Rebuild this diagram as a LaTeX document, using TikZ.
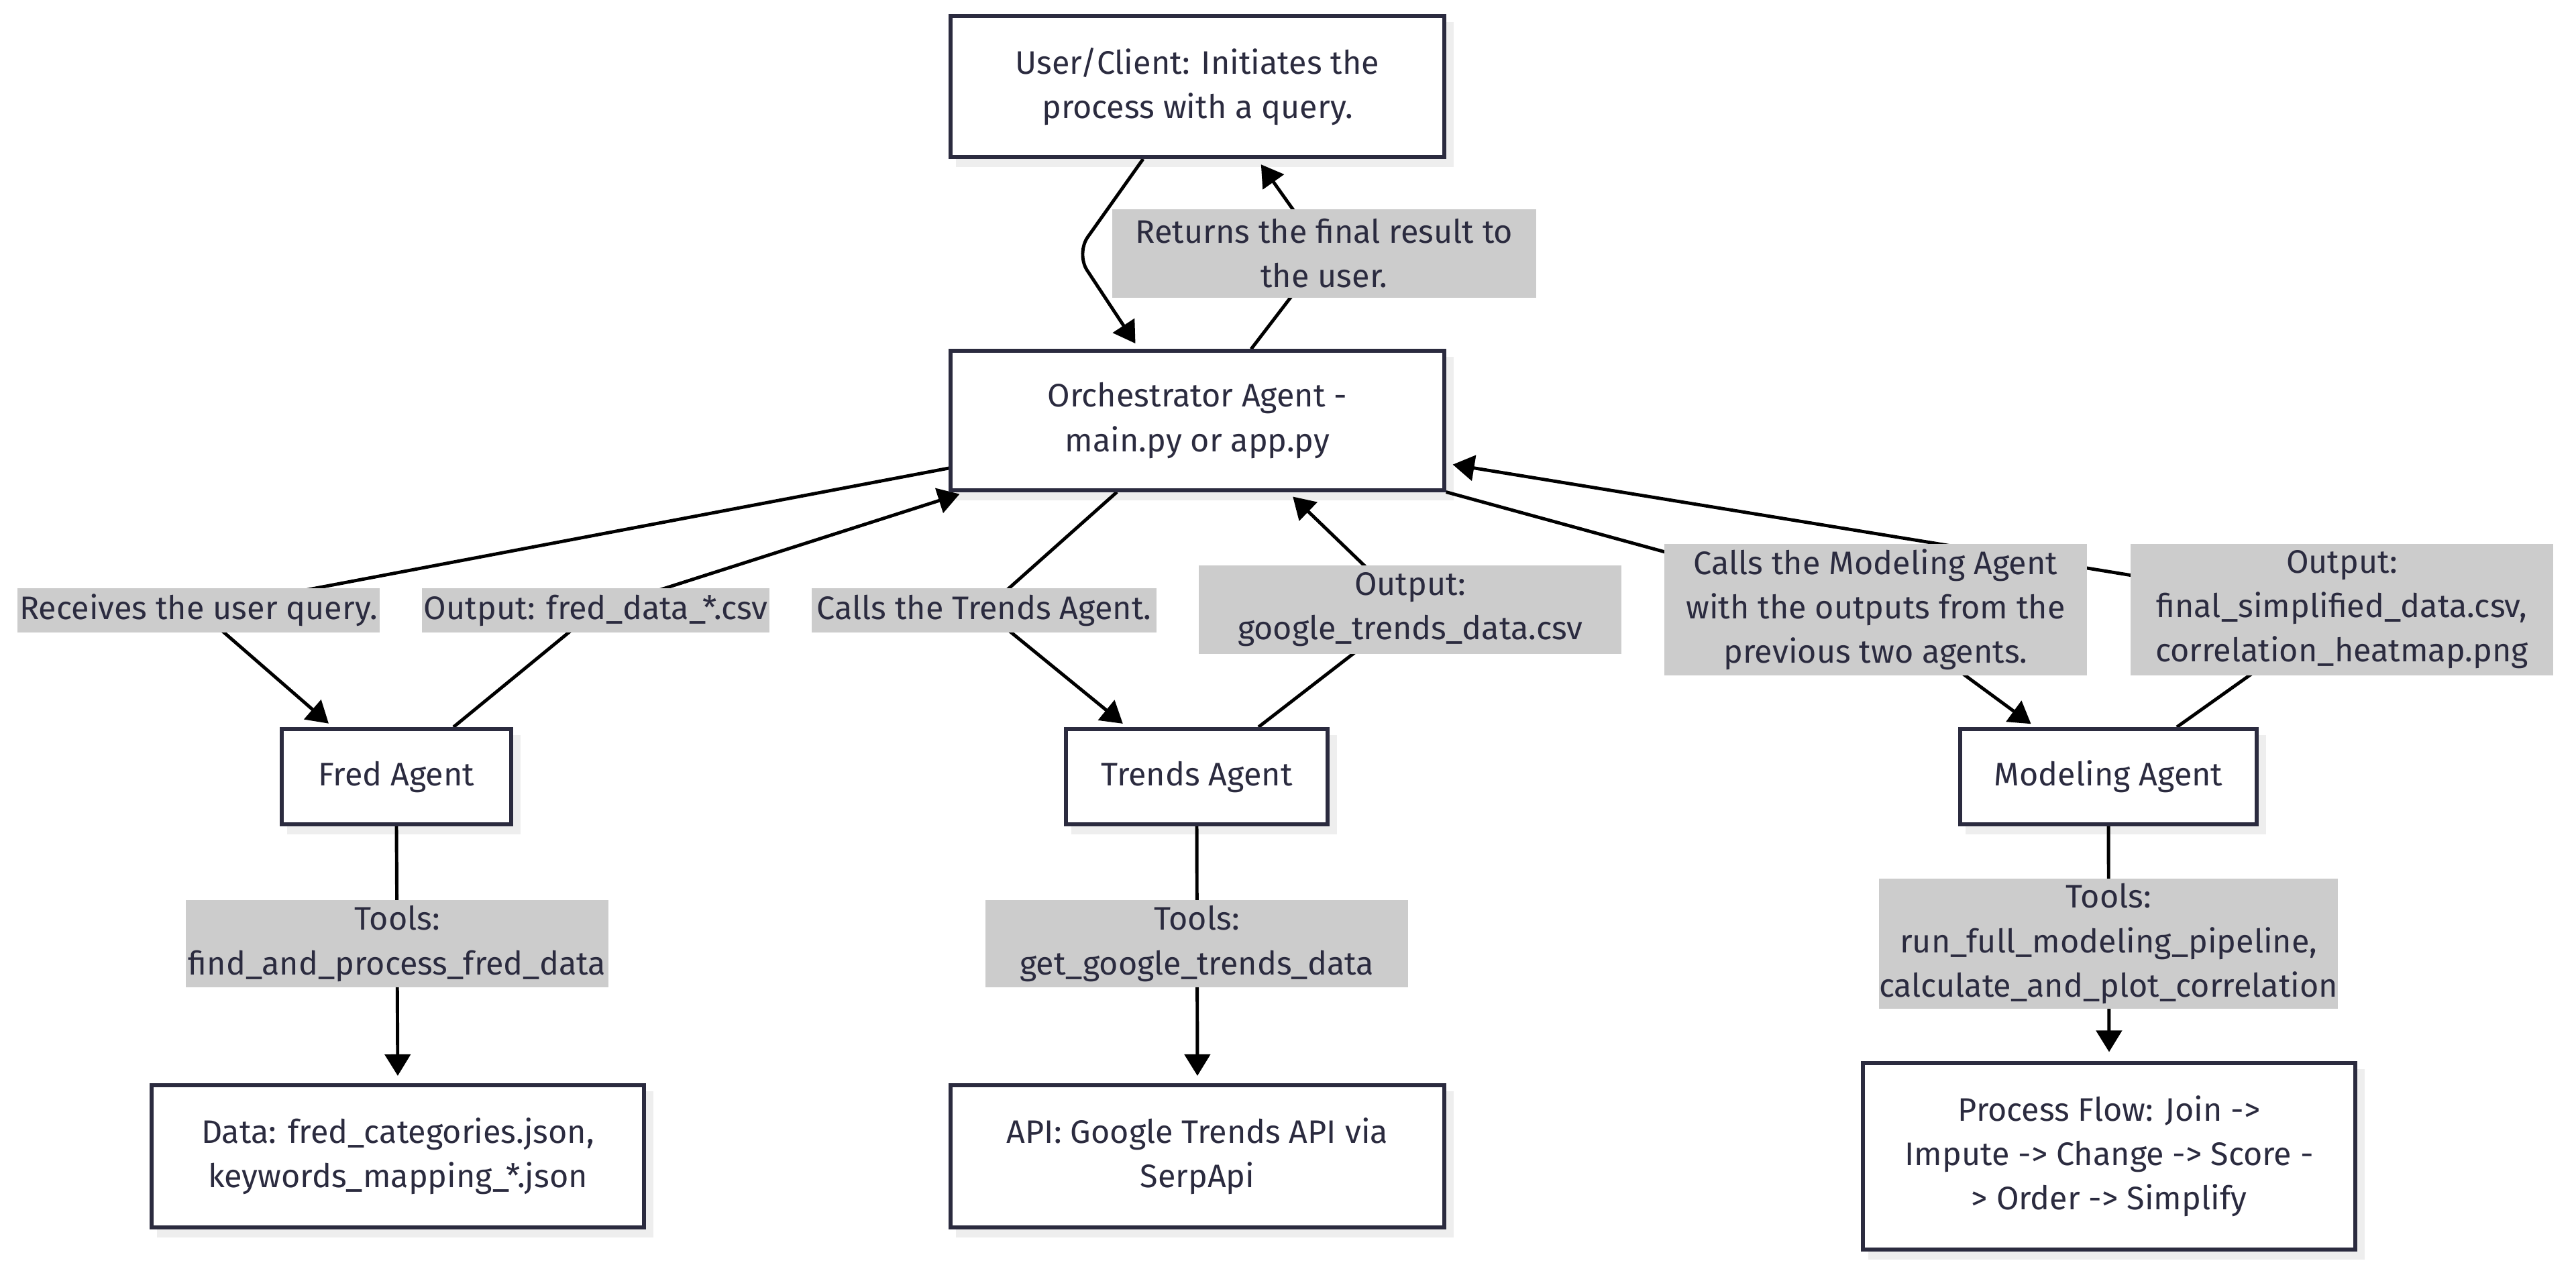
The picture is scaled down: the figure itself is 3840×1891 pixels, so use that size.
\documentclass[tikz,border=0pt]{standalone}
\usepackage{fontspec}
\setmainfont{Fira Sans}
\usetikzlibrary{arrows.meta,calc}
\definecolor{ink}{HTML}{2B2B3F}
\definecolor{lbl}{HTML}{CCCCCC}
\definecolor{shd}{HTML}{EEEEEE}
\newcommand\mainfnt{\fontsize{13.8pt}{18.8pt}\selectfont}
\pgfdeclarelayer{bg}
\pgfdeclarelayer{edges}
\pgfsetlayers{bg,edges,main}
\tikzset{
 box/.style={draw=ink,line width=1.7pt,fill=white,align=center,text=ink,inner sep=0pt,font=\mainfnt},
 lab/.style={fill=lbl,align=center,text=ink,inner sep=0pt,font=\mainfnt},
 conn/.style={line width=1.4pt,draw=black},
 arr/.style={-{Triangle[length=0.32cm,width=0.38cm]}},
}
\begin{document}
\begin{tikzpicture}[x=0.01cm,y=-0.01cm]
\useasboundingbox (0,0) rectangle (3840,1891);
% boxes
\node[box,minimum width=7.35cm,minimum height=2.10cm] (user) at (1785,129) {User/Client: Initiates the\\process with a query.};
\node[box,minimum width=7.35cm,minimum height=2.07cm] (orch) at (1785,627) {Orchestrator Agent -\\main.py or app.py};
\node[box,minimum width=3.41cm,minimum height=1.42cm] (fred) at (591,1158) {Fred Agent};
\node[box,minimum width=3.90cm,minimum height=1.42cm] (trends) at (1784,1158) {Trends Agent};
\node[box,minimum width=4.41cm,minimum height=1.42cm] (model) at (3143,1158) {Modeling Agent};
\node[box,minimum width=7.34cm,minimum height=2.12cm] (data) at (593,1724) {Data: fred\_categories.json,\\keywords\_mapping\_*.json};
\node[box,minimum width=7.35cm,minimum height=2.12cm] (api) at (1785,1724) {API: Google Trends API via\\SerpApi};
\node[box,minimum width=7.34cm,minimum height=2.77cm] (proc) at (3144,1724) {Process Flow: Join ->\\Impute -> Change -> Score -\\> Order -> Simplify};
% labels
\node[lab,minimum width=6.31cm,minimum height=1.31cm] (ret) at (1974,378) {Returns the final result to\\the user.};
\node[lab,minimum width=5.39cm,minimum height=0.66cm] (recv) at (296,910) {Receives the user query.};
\node[lab,minimum width=5.17cm,minimum height=0.66cm] (outF) at (888,910) {Output: fred\_data\_*.csv};
\node[lab,minimum width=5.14cm,minimum height=0.66cm] (callT) at (1467,910) {Calls the Trends Agent.};
\node[lab,minimum width=6.29cm,minimum height=1.32cm] (outT) at (2102,909) {Output:\\google\_trends\_data.csv};
\node[lab,minimum width=6.29cm,minimum height=1.96cm] (callM) at (2796,909) {Calls the Modeling Agent\\with the outputs from the\\previous two agents.};
\node[lab,minimum width=6.30cm,minimum height=1.96cm] (outM) at (3491,909) {Output:\\final\_simplified\_data.csv,\\correlation\_heatmap.png};
\node[lab,minimum width=6.29cm,minimum height=1.30cm] (toolsF) at (592,1407) {Tools:\\find\_and\_process\_fred\_data};
\node[lab,minimum width=6.30cm,minimum height=1.30cm] (toolsT) at (1784,1407) {Tools:\\get\_google\_trends\_data};
\node[lab,minimum width=6.83cm,minimum height=1.94cm] (toolsM) at (3143,1407) {Tools:\\run\_full\_modeling\_pipeline,\\calculate\_and\_plot\_correlation};
\begin{pgfonlayer}{bg}
\fill[white] (0,0) rectangle (3840,1891);
\foreach \n in {user,orch,fred,trends,model,data,api,proc}
  \fill[shd] ([shift={(11,12)}]\n.south west) rectangle ([shift={(11,12)}]\n.north east);
\end{pgfonlayer}
\begin{pgfonlayer}{edges}
\draw[conn,arr,rounded corners=0.3cm,shorten >=0.1cm] (user.south -| 1704,0) -- (1604,378) -- (orch.north -| 1698,0);
\draw[conn,arr,shorten >=0.1cm] (orch.north -| 1865,0) -- (ret.center) -- (user.south -| 1874,0);
\draw[conn,arr,shorten >=0.08cm] (orch.west |- 0,698) -- (recv.center) -- (fred.north -| 496,0);
\draw[conn,arr,shorten >=0.1cm] (fred.north -| 676,0) -- (outF.center) -- (orch.south -| 1440,0);
\draw[conn,arr,shorten >=0.08cm] (orch.south -| 1665,0) -- (callT.center) -- (trends.north -| 1680,0);
\draw[conn,arr,shorten >=0.1cm] (trends.north -| 1876,0) -- (outT.center) -- (orch.south -| 1920,0);
\draw[conn,arr,shorten >=0.08cm] (orch.south east) -- (callM.center) -- (model.north -| 3034,0);
\draw[conn,arr,shorten >=0.1cm] (model.north -| 3245,0) -- (outM.center) -- (orch.east |- 0,691);
\draw[conn,arr,shorten >=0.11cm] (fred.south) -- (data.north);
\draw[conn,arr,shorten >=0.11cm] (trends.south) -- (api.north);
\draw[conn,arr,shorten >=0.14cm] (model.south) -- (proc.north);
\end{pgfonlayer}
\end{tikzpicture}
\end{document}
